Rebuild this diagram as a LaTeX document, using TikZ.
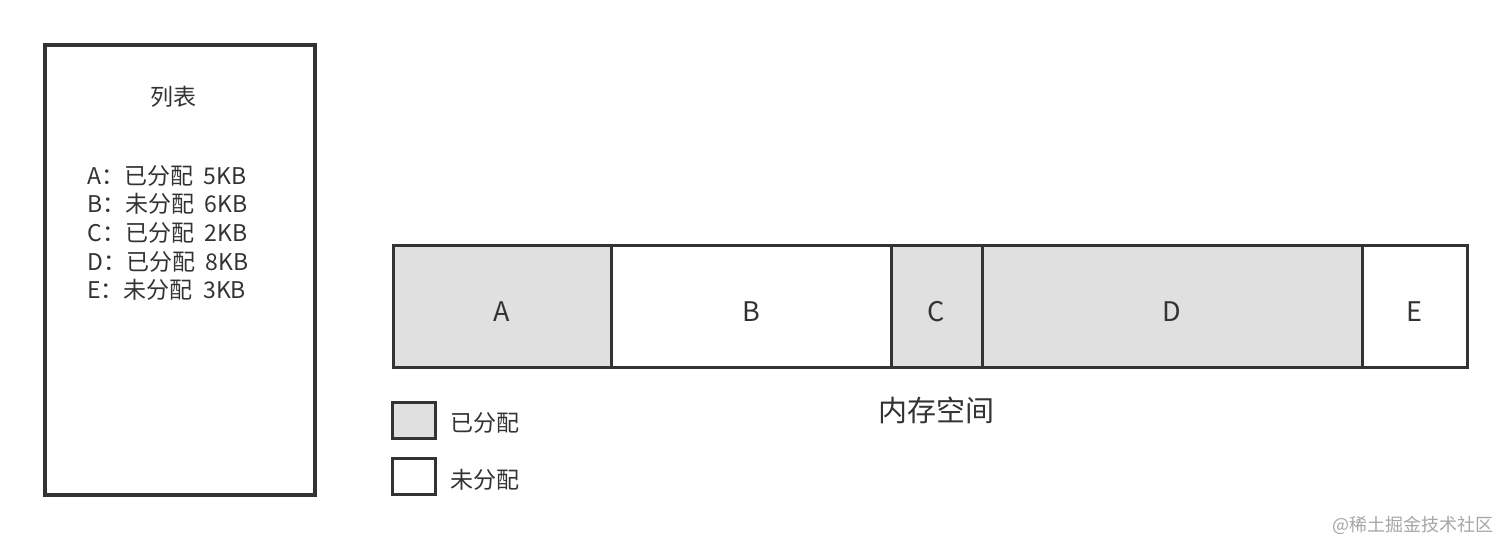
\documentclass[tikz,border=0pt]{standalone}
\usepackage{fontspec}
\setmainfont{Noto Sans CJK SC}
\usepackage{tikz}
\definecolor{used}{HTML}{E0E0E0}
\definecolor{edge}{HTML}{333333}

\begin{document}
\begin{tikzpicture}
[x=0.5pt,y=-0.5pt,every node/.style={inner sep=0pt,text=edge},
 cell/.style={draw=edge,line width=1.5pt,minimum height=61pt,text height=15pt,text depth=0pt,
   font=\fontsize{13.5}{16}\selectfont},
 key/.style={draw=edge,line width=1.5pt,minimum width=21.5pt,minimum height=18pt},
 label/.style={anchor=west,font=\fontsize{11.5}{14}\selectfont}]
\useasboundingbox[fill=white] (0,0) rectangle (1512,558);
\node[draw=edge,line width=1.6pt,minimum width=135pt,minimum height=225pt] (list) at (180,270) {};
\node[font=\fontsize{11.5}{14}\selectfont] (title) at (173,97) {列表};
\node[anchor=west,align=left,font=\fontsize{11.5}{14.35}\selectfont] (items) at (87,233)
  {A：已分配\hspace{0.45em}5KB\\B：未分配\hspace{0.45em}6KB\\C：已分配\hspace{0.45em}2KB\\
   D：已分配\hspace{0.45em}8KB\\E：未分配\hspace{0.45em}3KB};
\foreach \n/\l/\r/\c in {A/393/611/used,B/611/891/white,C/891/982/used,D/982/1362/used,E/1362/1467/white}
\node[cell,fill=\c,minimum width={(\r-\l)*0.5pt}] (\n) at ({(\l+\r)/2},306) {\n};
\node[font=\fontsize{14.5}{17}\selectfont] (mem) at (936,410) {内存空间};
\node[key,fill=used] (usedkey) at (413.5,420) {};
\node[key,fill=white] (freekey) at (413.5,476.5) {};
\node[label] (usedtxt) at (450,423) {已分配};
\node[label] (freetxt) at (450,480) {未分配};
\node[text=gray!70,font=\fontsize{9}{11}\selectfont] (credit) at (1413,525) {@稀土掘金技术社区};

\end{tikzpicture}
\end{document}
